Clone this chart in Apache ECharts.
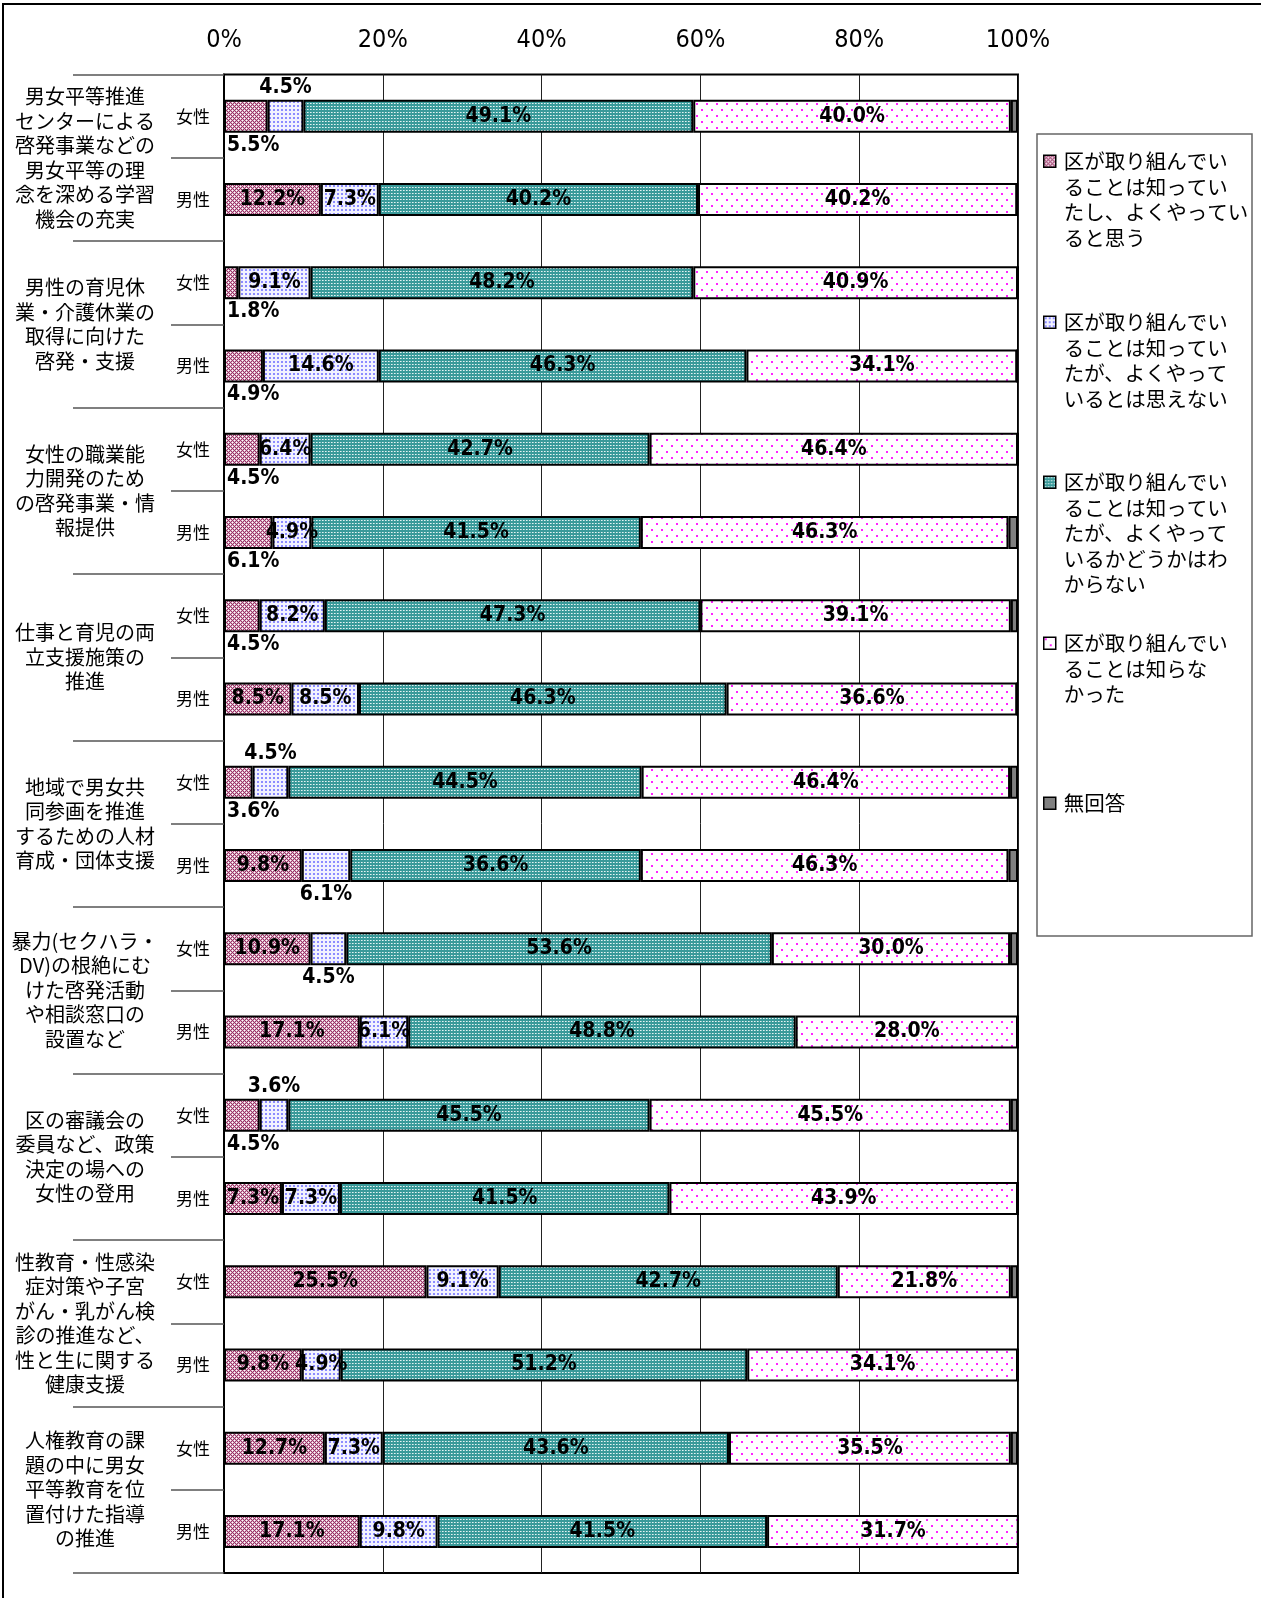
<!DOCTYPE html>
<html>
<head>
<meta charset="utf-8">
<script src="https://cdn.jsdelivr.net/npm/echarts@6/dist/echarts.min.js"></script>
<style>
  html, body { margin: 0; padding: 0; background: #fff; }
  #chart { width: 1261px; height: 1598px; }
</style>
</head>
<body>
<div id="chart"></div>
<script>
// 施策の項目（各2行：女性・男性）
const items = [
  '男女平等推進\nセンターによる\n啓発事業などの\n男女平等の理\n念を深める学習\n機会の充実',
  '男性の育児休\n業・介護休業の\n取得に向けた\n啓発・支援',
  '女性の職業能\n力開発のため\nの啓発事業・情\n報提供',
  '仕事と育児の両\n立支援施策の\n推進',
  '地域で男女共\n同参画を推進\nするための人材\n育成・団体支援',
  '暴力(セクハラ・\nDV)の根絶にむ\nけた啓発活動\nや相談窓口の\n設置など',
  '区の審議会の\n委員など、政策\n決定の場への\n女性の登用',
  '性教育・性感染\n症対策や子宮\nがん・乳がん検\n診の推進など、\n性と生に関する\n健康支援',
  '人権教育の課\n題の中に男女\n平等教育を位\n置付けた指導\nの推進'
]
const genders = ['女性', '男性']
const xTicks = [0, 20, 40, 60, 80, 100]

const seriesNames = [
  '区が取り組んでい\nることは知ってい\nたし、よくやってい\nると思う',
  '区が取り組んでい\nることは知ってい\nたが、よくやって\nいるとは思えない',
  '区が取り組んでい\nることは知ってい\nたが、よくやって\nいるかどうかはわ\nからない',
  '区が取り組んでい\nることは知らな\nかった',
  '無回答'
]

// 行の順：項目1女性, 項目1男性, 項目2女性, ...
const knewGood    = [5.5, 12.2, 1.8, 4.9, 4.5, 6.1, 4.5, 8.5, 3.6, 9.8, 10.9, 17.1, 4.5, 7.3, 25.5, 9.8, 12.7, 17.1]
const knewNotGood = [4.5, 7.3, 9.1, 14.6, 6.4, 4.9, 8.2, 8.5, 4.5, 6.1, 4.5, 6.1, 3.6, 7.3, 9.1, 4.9, 7.3, 9.8]
const knewUnsure  = [49.1, 40.2, 48.2, 46.3, 42.7, 41.5, 47.3, 46.3, 44.5, 36.6, 53.6, 48.8, 45.5, 41.5, 42.7, 51.2, 43.6, 41.5]
const didNotKnow  = [40.0, 40.2, 40.9, 34.1, 46.4, 46.3, 39.1, 36.6, 46.4, 46.3, 30.0, 28.0, 45.5, 43.9, 21.8, 34.1, 35.5, 31.7]
const noAnswer    = [0.9, 0, 0, 0, 0, 1.2, 0.9, 0, 1.0, 1.2, 1.0, 0, 0.9, 0, 0.9, 0, 0.9, 0]

// 棒の外に出すラベル（行番号: [知っていた・よくやっている, 知っていた・思えない]）
const outsideLabels = {
  0: ['below', 'above'],
  2: ['below'],
  3: ['below'],
  4: ['below'],
  5: ['below'],
  6: ['below'],
  8: ['below', 'above'],
  9: [null, 'below'],
  10: [null, 'below'],
  12: ['below', 'above']
}

const numFont = "'DejaVu Sans Condensed', sans-serif"
const jpFont = "'Noto Sans CJK JP', sans-serif"

function makePattern(w, h, bg, dots) {
  const c = document.createElement('canvas')
  c.width = w
  c.height = h
  const ctx = c.getContext('2d')
  ctx.fillStyle = bg
  ctx.fillRect(0, 0, w, h)
  dots.forEach(d => {
    ctx.fillStyle = d[2]
    ctx.fillRect(d[0], d[1], d[3] || 1, d[4] || 1)
  })
  return { image: c, repeat: 'repeat' }
}

const maroon = '#993366'
const fills = [
  makePattern(4, 4, '#dcb0c6', [
    [0, 0, maroon], [1, 1, maroon], [2, 2, maroon], [3, 3, maroon], [3, 1, maroon], [1, 3, maroon],
    [2, 0, '#ffffff'], [0, 2, '#ffffff']
  ]),
  makePattern(4, 4, '#f2f2ff', [[1, 1, '#8c8cff', 2, 2]]),
  makePattern(3, 3, '#3a9a9a', [[1, 1, '#e6f4f4'], [2, 1, '#9fd0d0']]),
  makePattern(10, 12, '#ffffff', [[1, 1, '#ff22ff', 2, 2], [6, 7, '#ff22ff', 2, 2]]),
  '#808080'
]

const rowIds = []
items.forEach((it, i) => genders.forEach(g => rowIds.push(i + '|' + g)))

const labelBase = {
  show: true,
  color: '#000',
  fontFamily: numFont,
  fontWeight: 'bold',
  fontSize: 21,
  formatter: p => p.value.toFixed(1) + '%'
}

function buildData(values, s) {
  return values.map((v, row) => {
    const place = outsideLabels[row] && outsideLabels[row][s]
    if (!place) return v
    let label
    if (s === 0) {
      label = { position: [3, '100%'], align: 'left', verticalAlign: 'top', offset: [0, 2] }
    } else {
      label = { position: place === 'above' ? 'top' : 'bottom', distance: 2 }
    }
    return { value: v, label }
  })
}

const allValues = [knewGood, knewNotGood, knewUnsure, didNotKnow, noAnswer]

const lineH = 25.5
const legendLineCenters = [161, 322, 482, 643, 803]

const chart = echarts.init(document.getElementById('chart'))
chart.setOption({
  animation: false,
  backgroundColor: '#fff',
  grid: {
    left: 224,
    right: 243,
    top: 74.5,
    bottom: 25,
    show: true,
    borderColor: '#000',
    borderWidth: 2,
    outerBoundsMode: 'none'
  },
  xAxis: {
    type: 'value',
    position: 'top',
    min: 0,
    max: 100,
    interval: 20,
    axisLine: { show: false },
    axisTick: { show: false },
    splitLine: { lineStyle: { color: '#222', width: 1 } },
    axisLabel: {
      margin: 22,
      fontFamily: numFont,
      fontSize: 25,
      color: '#000',
      formatter: v => xTicks.indexOf(v) >= 0 ? v + '%' : ''
    }
  },
  yAxis: [
    {
      type: 'category',
      data: rowIds,
      inverse: true,
      position: 'left',
      axisLine: { show: true, lineStyle: { color: '#000', width: 2 } },
      axisTick: { show: true, interval: 0, length: 53, lineStyle: { color: '#555', width: 1.5 } },
      axisLabel: {
        interval: 0,
        margin: 14,
        fontFamily: jpFont,
        fontSize: 17,
        color: '#000',
        formatter: v => v.split('|')[1]
      }
    },
    {
      type: 'category',
      data: items,
      inverse: true,
      position: 'left',
      axisLine: { show: false },
      axisTick: { show: true, interval: 0, length: 151, lineStyle: { color: '#555', width: 1.5 } },
      axisLabel: {
        interval: 0,
        margin: 139,
        align: 'center',
        fontFamily: jpFont,
        fontSize: 20,
        lineHeight: 24.5,
        color: '#000'
      }
    }
  ],
  legend: seriesNames.map((name, i) => {
    const n = name.split('\n').length
    return {
      data: [name],
      left: 1043,
      top: legendLineCenters[i] - 10,
      orient: 'vertical',
      padding: 0,
      icon: 'rect',
      itemWidth: 12,
      itemHeight: 12,
      selectedMode: false,
      itemStyle: { borderColor: '#000', borderWidth: 1.5 },
      formatter: nm => '{t|' + nm + '}',
      textStyle: {
        padding: [(n - 1) * lineH, 0, 0, 3],
        rich: {
          t: { fontFamily: jpFont, fontSize: 20.5, lineHeight: lineH, color: '#000' }
        }
      }
    }
  }),
  graphic: [
    {
      type: 'rect',
      silent: true,
      shape: { x: 3, y: 4, width: 1300, height: 1700 },
      style: { fill: 'none', stroke: '#000', lineWidth: 2 }
    },
    {
      type: 'rect',
      silent: true,
      shape: { x: 1037, y: 134, width: 215, height: 802 },
      style: { fill: 'none', stroke: '#666', lineWidth: 1.5 }
    }
  ],
  series: allValues.map((vals, s) => ({
    name: seriesNames[s],
    type: 'bar',
    stack: 'total',
    yAxisIndex: 0,
    barWidth: 33,
    itemStyle: { color: fills[s], borderColor: '#000', borderWidth: 2 },
    label: s < 4 ? labelBase : { show: false },
    emphasis: { disabled: true },
    data: buildData(vals, s)
  }))
})
</script>
</body>
</html>
